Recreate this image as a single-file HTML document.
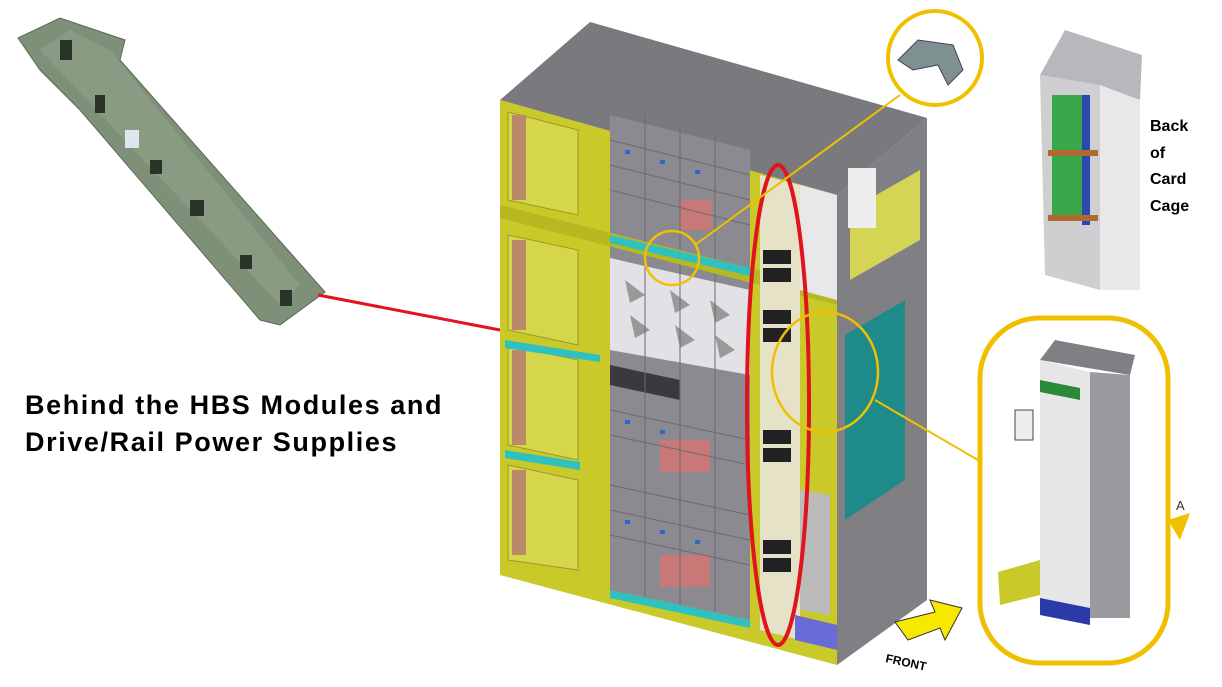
<!DOCTYPE html>
<html><head><meta charset="utf-8"><style>
html,body{margin:0;padding:0;background:#fff;}
body{width:1222px;height:687px;position:relative;overflow:hidden;font-family:"Liberation Sans",Arial,sans-serif;}
.t{position:absolute;font-weight:bold;color:#000;}
</style></head><body>
<svg width="1222" height="687" style="position:absolute;left:0;top:0">
<!-- circuit board -->
<polygon points="18,38 60,18 125,40 120,60 325,292 280,325 260,320 80,110 40,70" fill="#7f9078" stroke="#5a6a55"/>
<polygon points="40,50 70,30 110,50 300,285 280,305" fill="#8ea088" opacity="0.7"/>
<g fill="#2a3328"><rect x="60" y="40" width="12" height="20"/><rect x="95" y="95" width="10" height="18"/><rect x="150" y="160" width="12" height="14"/><rect x="190" y="200" width="14" height="16"/><rect x="240" y="255" width="12" height="14"/><rect x="280" y="290" width="12" height="16"/></g>
<rect x="125" y="130" width="14" height="18" fill="#dfe4ee"/>
<!-- red connector -->
<polyline points="318,295 500,330 745,372" fill="none" stroke="#e0141c" stroke-width="3"/>
<!-- cabinet top -->
<polygon points="500,100 590,22 927,118 837,195" fill="#7a7a7e"/>
<!-- right side -->
<polygon points="837,195 927,118 927,600 837,665" fill="#808084"/>
<polygon points="845,335 905,300 905,480 845,520" fill="#1f8a8a"/>
<polygon points="850,210 920,170 920,240 850,280" fill="#e8e84a" opacity="0.8"/>
<rect x="848" y="168" width="28" height="60" fill="#eee"/>
<!-- front face -->
<polygon points="500,100 837,195 837,665 500,575" fill="#c9c92a"/>
<!-- left bays -->
<g fill="#d6d64a" stroke="#99992a">
<polygon points="508,112 578,130 578,215 508,200"/>
<polygon points="508,235 578,250 578,345 508,330"/>
<polygon points="508,345 578,360 578,460 508,445"/>
<polygon points="508,465 578,480 578,570 508,560"/>
</g>
<g fill="#b88a6a"><rect x="512" y="115" width="14" height="85"/><rect x="512" y="240" width="14" height="90"/><rect x="512" y="350" width="14" height="95"/><rect x="512" y="470" width="14" height="85"/></g>
<!-- center drive area -->
<polygon points="610,115 750,150 750,620 610,590" fill="#8a8a90"/>
<polygon points="610,258 750,290 750,375 610,350" fill="#e2e2e6"/>
<g fill="#999"><path d="M625 280 l20 15 l-15 8z M670 290 l20 15 l-15 8z M710 300 l20 15 l-15 8z M630 315 l20 15 l-15 8z M675 325 l20 15 l-15 8z M715 335 l20 15 l-15 8z"/></g>
<polygon points="610,365 680,380 680,400 610,385" fill="#3a3a3e"/>
<g fill="#c97878"><rect x="680" y="200" width="32" height="30"/><rect x="660" y="440" width="50" height="32"/><rect x="660" y="555" width="50" height="32"/></g>
<g stroke="#6a6a70" stroke-width="1" fill="none">
<path d="M610 140 L750 175 M610 165 L750 200 M610 190 L750 225 M610 410 L750 440 M610 435 L750 465 M610 485 L750 515 M610 510 L750 540 M610 535 L750 565 M645 115 V600 M680 125 V605 M715 135 V612"/></g>
<g fill="#2a6ac8"><rect x="625" y="150" width="5" height="4"/><rect x="660" y="160" width="5" height="4"/><rect x="695" y="170" width="5" height="4"/><rect x="625" y="420" width="5" height="4"/><rect x="660" y="430" width="5" height="4"/><rect x="625" y="520" width="5" height="4"/><rect x="660" y="530" width="5" height="4"/><rect x="695" y="540" width="5" height="4"/></g>
<!-- beams -->
<polygon points="500,205 837,290 837,305 500,218" fill="#b8b820"/>
<polygon points="505,450 580,462 580,470 505,458" fill="#2fc0c0"/>
<polygon points="505,340 600,355 600,362 505,348" fill="#2fc0c0"/>
<polygon points="610,235 750,268 750,276 610,243" fill="#2fc0c0"/>
<polygon points="610,590 750,620 750,628 610,598" fill="#2fc0c0"/>
<!-- power supply column -->
<polygon points="760,175 800,185 800,640 760,630" fill="#e5e2c8"/>
<g fill="#222"><rect x="763" y="250" width="28" height="14"/><rect x="763" y="268" width="28" height="14"/><rect x="763" y="310" width="28" height="14"/><rect x="763" y="328" width="28" height="14"/><rect x="763" y="430" width="28" height="14"/><rect x="763" y="448" width="28" height="14"/><rect x="763" y="540" width="28" height="14"/><rect x="763" y="558" width="28" height="14"/></g>
<polygon points="800,185 837,195 837,300 800,290" fill="#e8e8ea"/>
<polygon points="800,490 830,495 830,615 800,610" fill="#bbb"/>
<polygon points="795,615 837,625 837,650 795,640" fill="#6b6bd8"/>
<!-- red ellipse -->
<ellipse cx="778" cy="405" rx="31" ry="240" fill="none" stroke="#e0141c" stroke-width="4"/>
<!-- yellow circles and leaders -->
<line x1="695" y1="245" x2="900" y2="95" stroke="#f0c000" stroke-width="2"/>
<line x1="875" y1="400" x2="978" y2="460" stroke="#f0c000" stroke-width="2"/>
<circle cx="672" cy="258" r="27" fill="none" stroke="#f0c000" stroke-width="2.5"/>
<ellipse cx="825" cy="372" rx="53" ry="60" fill="none" stroke="#f0c000" stroke-width="2.5"/>
<circle cx="935" cy="58" r="47" fill="#fff" stroke="#f0c000" stroke-width="4"/>
<path d="M898 60 l20 -20 l35 5 l10 25 l-15 15 l-10 -20 l-25 5 z" fill="#7f9090" stroke="#445" />
<!-- zoom detail box -->
<rect x="980" y="318" width="188" height="345" rx="60" fill="#fff" stroke="#f0c000" stroke-width="5"/>
<polygon points="1040,360 1055,340 1135,355 1130,375" fill="#808084"/>
<polygon points="1040,360 1090,372 1090,618 1040,605" fill="#e6e6e6"/>
<polygon points="1090,372 1130,375 1130,618 1090,618" fill="#9a9aa0"/>
<polygon points="1040,380 1080,388 1080,400 1040,392" fill="#2a8a3a"/>
<polygon points="1040,598 1090,608 1090,625 1040,615" fill="#2a3aa8"/>
<polygon points="998,572 1040,560 1040,595 1000,605" fill="#c9c92a"/>
<rect x="1015" y="410" width="18" height="30" fill="#eee" stroke="#444"/>
<polygon points="1168,520 1190,513 1180,540" fill="#f0c000"/>
<text x="1176" y="510" font-size="13" font-family="Liberation Sans" fill="#333">A</text>
<!-- card cage -->
<polygon points="1040,75 1065,30 1142,55 1140,100" fill="#b8b8bc"/>
<polygon points="1040,75 1100,85 1100,290 1045,275" fill="#cfcfd2"/>
<polygon points="1100,85 1140,100 1140,290 1100,290" fill="#e8e8ea"/>
<rect x="1052" y="95" width="38" height="120" fill="#3aa84a"/>
<rect x="1082" y="95" width="8" height="130" fill="#2a4ab0"/>
<rect x="1048" y="150" width="50" height="6" fill="#b06a30"/>
<rect x="1048" y="215" width="50" height="6" fill="#b06a30"/>
<!-- FRONT arrow -->
<polygon points="895,622 935,612 930,600 962,608 945,640 940,628 908,640" fill="#f7e800" stroke="#333"/>
<text x="885" y="662" font-size="12" font-weight="bold" font-family="Liberation Sans" transform="rotate(12 885 662)">FRONT</text>
</svg>
<div class="t" style="left:25px;top:387px;font-size:27px;letter-spacing:1.6px;line-height:37px;">Behind the HBS Modules and<br>Drive/Rail Power Supplies</div>
<div class="t" style="left:1150px;top:114px;font-size:16px;line-height:26.5px;">Back<br>of<br>Card<br>Cage</div>
</body></html>
